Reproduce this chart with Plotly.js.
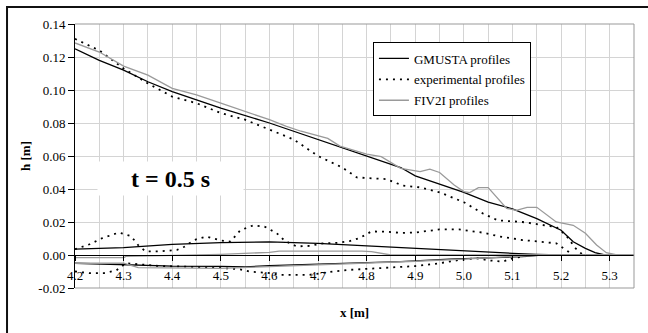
<!DOCTYPE html>
<html>
<head>
<meta charset="utf-8">
<script src="https://cdn.plot.ly/plotly-3.0.1.min.js"></script>
<style>html,body{margin:0;padding:0;background:#fff;}#chart{width:648px;height:333px;}</style>
</head>
<body>
<div id="chart"></div>
<script>
// ---- data ----
const seriesNames = ["GMUSTA profiles", "experimental profiles", "FIV2I profiles"];

// GMUSTA (black solid)
const gmX1 = [4.2, 4.25, 4.3, 4.35, 4.4, 4.45, 4.5, 4.6, 4.7, 4.8, 4.87, 4.9, 5.0, 5.05, 5.1, 5.15, 5.2, 5.225, 5.25, 5.27, 5.29, 5.35];
const gmY1 = [0.125, 0.118, 0.112, 0.105, 0.099, 0.094, 0.089, 0.080, 0.070, 0.060, 0.053, 0.048, 0.038, 0.032, 0.028, 0.022, 0.015, 0.008, 0.004, 0.0015, 0, 0];
const gmX2 = [4.2, 4.3, 4.4, 4.5, 4.6, 4.65, 4.7, 4.75, 4.8, 4.85, 4.9, 4.95, 5.0, 5.05, 5.1, 5.15, 5.2, 5.35];
const gmY2 = [0.0036, 0.0045, 0.0065, 0.0075, 0.0080, 0.0076, 0.0071, 0.0063, 0.0055, 0.0048, 0.0042, 0.0034, 0.0026, 0.0018, 0.0010, 0.0004, 0, 0];
const gmX3 = [4.2, 4.3, 4.4, 4.5, 4.55, 4.6, 4.68, 4.78, 4.87, 4.97, 5.07, 5.12, 5.16, 5.35];
const gmY3 = [-0.005, -0.006, -0.0067, -0.0069, -0.0072, -0.0064, -0.0058, -0.0048, -0.0040, -0.0025, -0.0016, -0.001, 0, 0];

// experimental (black dotted)
const exX1 = [4.2, 4.25, 4.3, 4.35, 4.4, 4.45, 4.5, 4.55, 4.6, 4.65, 4.7, 4.75, 4.78, 4.84, 4.875, 4.91, 4.95, 5.0, 5.04, 5.07, 5.12, 5.19, 5.21, 5.23, 5.245, 5.35];
const exY1 = [0.131, 0.124, 0.113, 0.104, 0.096, 0.092, 0.086, 0.082, 0.076, 0.070, 0.060, 0.053, 0.047, 0.046, 0.042, 0.041, 0.038, 0.032, 0.025, 0.021, 0.020, 0.017, 0.012, 0.004, 0, 0];
const exX2 = [4.2, 4.23, 4.255, 4.29, 4.315, 4.33, 4.345, 4.375, 4.41, 4.425, 4.445, 4.47, 4.5, 4.52, 4.54, 4.567, 4.59, 4.615, 4.632, 4.656, 4.683, 4.71, 4.74, 4.765, 4.786, 4.81, 4.84, 4.87, 4.9, 4.95, 4.99, 5.04, 5.074, 5.12, 5.19, 5.205, 5.225];
const exY2 = [0.0035, 0.0065, 0.0101, 0.0136, 0.0115, 0.006, 0.0022, 0.0022, 0.0031, 0.0050, 0.0091, 0.0112, 0.0088, 0.0081, 0.0150, 0.0180, 0.0172, 0.0132, 0.0085, 0.0052, 0.0055, 0.0071, 0.0074, 0.0084, 0.0103, 0.0143, 0.0141, 0.0134, 0.0136, 0.0155, 0.0155, 0.0135, 0.0112, 0.0091, 0.0071, 0.004, 0];
const exX3 = [4.2, 4.23, 4.26, 4.285, 4.305, 4.33, 4.375, 4.41, 4.46, 4.5, 4.54, 4.56, 4.595, 4.625, 4.68, 4.705, 4.73, 4.765, 4.8, 4.84, 4.9, 4.95, 4.99, 5.026, 5.053, 5.08, 5.1, 5.122, 5.14];
const exY3 = [-0.010, -0.011, -0.011, -0.0093, -0.005, -0.0056, -0.0067, -0.0069, -0.0072, -0.0078, -0.0087, -0.0101, -0.0108, -0.0121, -0.0121, -0.0110, -0.0100, -0.0090, -0.0083, -0.0076, -0.0067, -0.005, -0.003, -0.002, -0.0033, -0.004, -0.002, -0.001, 0];

// FIV2I (gray solid)
const fvX1 = [4.2, 4.25, 4.3, 4.35, 4.4, 4.45, 4.5, 4.55, 4.6, 4.635, 4.665, 4.72, 4.745, 4.8, 4.83, 4.87, 4.91, 4.93, 4.95, 4.98, 5.0, 5.012, 5.03, 5.05, 5.088, 5.108, 5.13, 5.15, 5.19, 5.225, 5.25, 5.273, 5.293, 5.315, 5.35];
const fvY1 = [0.1285, 0.123, 0.1145, 0.109, 0.101, 0.097, 0.092, 0.087, 0.082, 0.078, 0.075, 0.0707, 0.066, 0.0612, 0.0596, 0.0525, 0.0505, 0.052, 0.050, 0.0424, 0.0384, 0.0378, 0.0408, 0.0408, 0.0283, 0.027, 0.0289, 0.0289, 0.020, 0.018, 0.0132, 0.0061, 0.0014, 0, 0];
const fvX2 = [4.2, 4.3, 4.305, 4.5, 4.6, 4.62, 4.79, 4.81, 4.85, 5.35];
const fvY2 = [-0.0016, -0.0016, -0.0008, 0.0004, 0.0016, 0.0024, 0.0024, 0.002, 0, 0];
const fvX3 = [4.2, 4.3, 4.33, 4.5, 4.6, 4.7, 4.8, 4.9, 5.0, 5.1, 5.16, 5.35];
const fvY3 = [-0.005, -0.005, -0.0077, -0.0081, -0.0070, -0.0060, -0.0050, -0.0038, -0.0025, -0.0012, 0, 0];

const xTickVals = [4.2, 4.3, 4.4, 4.5, 4.6, 4.7, 4.8, 4.9, 5.0, 5.1, 5.2, 5.3];
const xTickText = ["4.2", "4.3", "4.4", "4.5", "4.6", "4.7", "4.8", "4.9", "5.0", "5.1", "5.2", "5.3"];
const yTickVals = [-0.02, 0, 0.02, 0.04, 0.06, 0.08, 0.10, 0.12, 0.14];
const yTickText = ["-0.02", "0.00", "0.02", "0.04", "0.06", "0.08", "0.10", "0.12", "0.14"];
const annotationText = "t = 0.5 s";

// ---- styles ----
const gmLine = {color: "#000000", width: 1.3};
const exLine = {color: "#000000", width: 1.8, dash: "2px,5px"};
const fvLine = {color: "#9a9a9a", width: 1.3};

function tr(x, y, name, line, group, show) {
  return {x: x, y: y, type: "scatter", mode: "lines", name: name, line: line,
          legendgroup: group, showlegend: show, hoverinfo: "skip"};
}

const traces = [
  tr(gmX1, gmY1, seriesNames[0], gmLine, "g", true),
  tr(gmX2, gmY2, seriesNames[0], gmLine, "g", false),
  tr(gmX3, gmY3, seriesNames[0], gmLine, "g", false),
  tr(exX1, exY1, seriesNames[1], exLine, "e", true),
  tr(exX2, exY2, seriesNames[1], exLine, "e", false),
  tr(exX3, exY3, seriesNames[1], exLine, "e", false),
  tr(fvX1, fvY1, seriesNames[2], fvLine, "f", true),
  tr(fvX2, fvY2, seriesNames[2], fvLine, "f", false),
  tr(fvX3, fvY3, seriesNames[2], fvLine, "f", false)
];

const serif = "Liberation Serif, serif";
const gridC = "#d4d4d4";
const borderC = "#999999";

const layout = {
  width: 648, height: 333,
  margin: {l: 75, r: 14, t: 24, b: 45, pad: 0},
  paper_bgcolor: "#ffffff", plot_bgcolor: "#ffffff",
  font: {family: serif, size: 13, color: "#000"},
  showlegend: true,
  legend: {x: 0.533, y: 0.93, xanchor: "left", yanchor: "top", bgcolor: "#ffffff",
           bordercolor: "#000", borderwidth: 1, font: {family: serif, size: 13},
           traceorder: "grouped", tracegroupgap: 1},
  xaxis: {range: [4.2, 5.35], tickvals: xTickVals, ticktext: xTickText,
          showgrid: true, gridcolor: gridC, gridwidth: 1,
          minor: {dtick: 0.05, tick0: 4.2, showgrid: true, gridcolor: gridC, gridwidth: 1, ticks: ""},
          anchor: "free", position: 0.125, showline: true, linecolor: "#000", linewidth: 1,
          ticks: "outside", ticklen: 5, tickcolor: "#000", zeroline: false,
          ticklabelstandoff: 3, tickfont: {family: serif, size: 13},
          title: {text: "<b>x [m]</b>", standoff: 26, font: {family: serif, size: 13}}},
  yaxis: {range: [-0.02, 0.14], tickvals: yTickVals, ticktext: yTickText,
          showgrid: true, gridcolor: gridC, gridwidth: 1,
          showline: true, linecolor: "#000", linewidth: 1,
          ticks: "outside", ticklen: 6, tickcolor: "#000", zeroline: false,
          tickfont: {family: serif, size: 13},
          title: {text: "<b>h [m]</b>", standoff: 4, font: {family: serif, size: 13}}},
  shapes: [
    {type: "line", xref: "paper", yref: "paper", x0: 0, x1: 1, y0: 1, y1: 1, line: {color: borderC, width: 1}},
    {type: "line", xref: "paper", yref: "paper", x0: 1, x1: 1, y0: 0, y1: 1, line: {color: borderC, width: 1}},
    {type: "line", xref: "paper", yref: "paper", x0: 0, x1: 1, y0: 0, y1: 0, line: {color: borderC, width: 1}},
    {type: "rect", xref: "paper", yref: "paper", x0: -0.1216, x1: 1.06, y0: -0.25, y1: 1.0644,
     line: {color: "#111", width: 2}, fillcolor: "rgba(0,0,0,0)"}
  ],
  annotations: [
    {xref: "paper", yref: "paper", x: 0.170, y: 0.4148, xanchor: "center", yanchor: "middle",
     text: "<b>" + annotationText + "</b>", showarrow: false, bgcolor: "#ffffff",
     width: 143, height: 31, font: {family: serif, size: 24, color: "#000"}}
  ]
};

Plotly.newPlot("chart", traces, layout, {staticPlot: true, displayModeBar: false});
</script>
</body>
</html>
